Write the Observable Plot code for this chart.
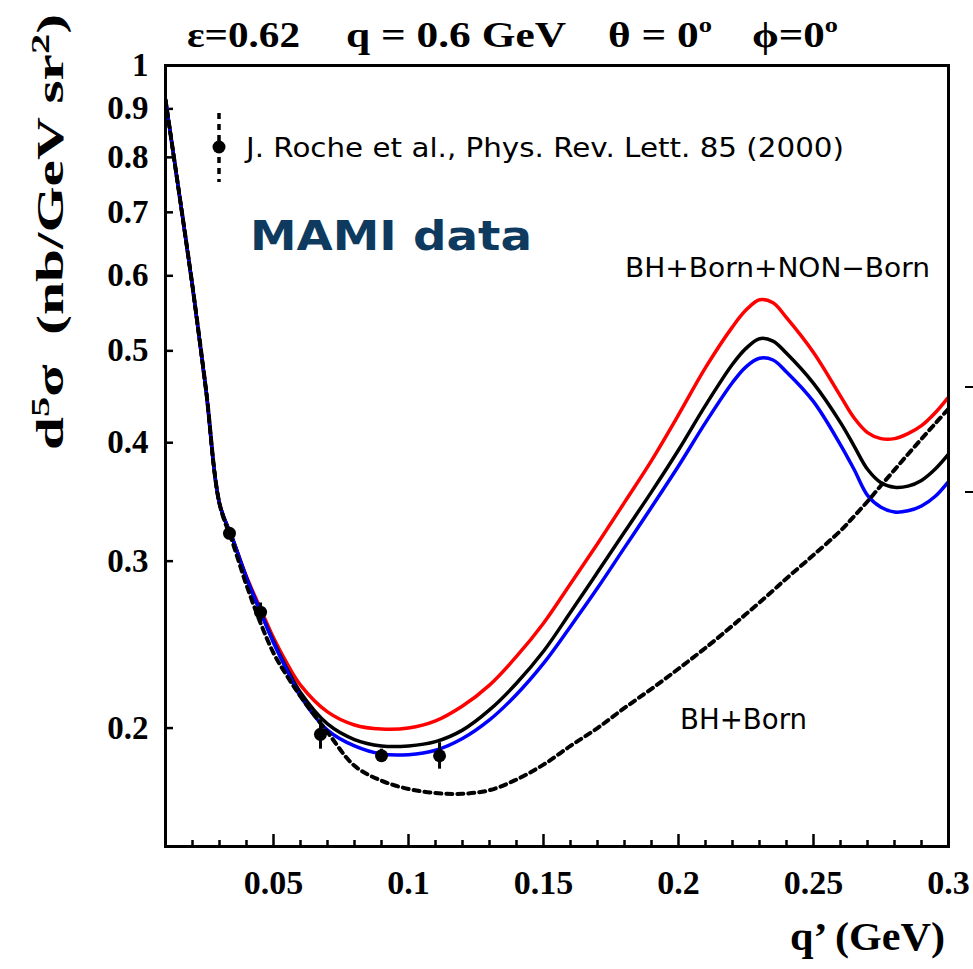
<!DOCTYPE html>
<html>
<head>
<meta charset="utf-8">
<script src="https://cdn.jsdelivr.net/npm/d3@7"></script>
<script src="https://cdn.jsdelivr.net/npm/@observablehq/plot@0.6"></script>
<style>
  html, body { margin: 0; padding: 0; background: #fff; }
  svg { display: block; }
</style>
</head>
<body>
<div id="chart"></div>
<script>
// ---------------- data ----------------
const qGrid = [0.010, 0.015, 0.020, 0.025, 0.030, 0.035, 0.040, 0.045, 0.050, 0.055, 0.060,
  0.070, 0.080, 0.090, 0.100, 0.110, 0.120, 0.130, 0.140, 0.150, 0.160, 0.170, 0.180, 0.190,
  0.200, 0.210, 0.220, 0.225, 0.230, 0.235, 0.240, 0.250, 0.260, 0.265, 0.270, 0.275, 0.280,
  0.285, 0.290, 0.295, 0.300];

// BH+Born+NON-Born (upper, red)
const nonBornHigh = [0.92, 0.735, 0.585, 0.455, 0.345, 0.316, 0.289, 0.268, 0.249, 0.234, 0.222,
  0.208, 0.2015, 0.1995, 0.2, 0.2035, 0.211, 0.222, 0.238, 0.258, 0.284, 0.313, 0.346, 0.383,
  0.428, 0.48, 0.53, 0.552, 0.566, 0.562, 0.542, 0.498, 0.448, 0.425, 0.41, 0.404, 0.404,
  0.409, 0.417, 0.43, 0.447];
// BH+Born+NON-Born (central, black)
const nonBornMid = [0.92, 0.735, 0.585, 0.455, 0.345, 0.316, 0.288, 0.266, 0.247, 0.231, 0.218,
  0.202, 0.1945, 0.1915, 0.1915, 0.1935, 0.199, 0.209, 0.223, 0.241, 0.265, 0.292, 0.322, 0.355,
  0.393, 0.438, 0.484, 0.503, 0.515, 0.512, 0.497, 0.462, 0.42, 0.397, 0.375, 0.363, 0.359,
  0.36, 0.365, 0.375, 0.389];
// BH+Born+NON-Born (lower, blue)
const nonBornLow = [0.92, 0.735, 0.585, 0.455, 0.345, 0.316, 0.288, 0.266, 0.246, 0.23, 0.216,
  0.199, 0.1915, 0.1878, 0.1875, 0.1895, 0.195, 0.204, 0.217, 0.234, 0.256, 0.281, 0.31, 0.342,
  0.378, 0.42, 0.463, 0.481, 0.491, 0.489, 0.475, 0.442, 0.398, 0.375, 0.352, 0.342, 0.338,
  0.339, 0.343, 0.351, 0.364];
// BH+Born (dotted)
const bhBorn = [0.92, 0.735, 0.585, 0.455, 0.345, 0.313, 0.283, 0.259, 0.24, 0.227, 0.216,
  0.198, 0.1825, 0.176, 0.1725, 0.1708, 0.1705, 0.172, 0.1765, 0.183, 0.1915, 0.2, 0.21, 0.22,
  0.231, 0.243, 0.2565, 0.2638, 0.2713, 0.2793, 0.2877, 0.3045, 0.323, 0.3345, 0.3468, 0.3605,
  0.3745, 0.389, 0.4037, 0.4188, 0.4344];

// J. Roche et al. data
const dataQ   = [0.0337, 0.0452, 0.0674, 0.0900, 0.1115];
const dataXs  = [0.321, 0.265, 0.197, 0.187, 0.187];
const dataErr = [0.004, 0.006, 0.007, 0.003, 0.006];

// ticks
const xMajorTicks = [0.05, 0.1, 0.15, 0.2, 0.25, 0.3];
const xMajorLabels = ["0.05", "0.1", "0.15", "0.2", "0.25", "0.3"];
const xMinorTicks = [0.02, 0.03, 0.04, 0.06, 0.07, 0.08, 0.09, 0.11, 0.12, 0.13, 0.14, 0.16,
  0.17, 0.18, 0.19, 0.21, 0.22, 0.23, 0.24, 0.26, 0.27, 0.28, 0.29];
const yTicks = [0.2, 0.3, 0.4, 0.5, 0.6, 0.7, 0.8, 0.9, 1];
const yLabels = ["0.2", "0.3", "0.4", "0.5", "0.6", "0.7", "0.8", "0.9", "1"];

// ---------------- build ----------------
const mk = arr => qGrid.map((q, i) => ({q, v: arr[i]}));
const points = dataQ.map((q, i) => ({q, v: dataXs[i], e: dataErr[i]}));

const W = 973, H = 969, mL = 165, mT = 65, mR = 25, mB = 123;
const fw = W - mL - mR, fh = H - mT - mB;
const serif = "'Liberation Serif', 'Times New Roman', serif";
const sans = "'DejaVu Sans', sans-serif";

const lineOpts = (color, extra = {}) => ({x: "q", y: "v", stroke: color, strokeWidth: 3.5,
  curve: "catmull-rom", clip: true, ...extra});

const chart = Plot.plot({
  width: W, height: H,
  marginLeft: mL, marginTop: mT, marginRight: mR, marginBottom: mB,
  x: {domain: [0.01, 0.3]},
  y: {type: "log", domain: [0.15, 1]},
  style: {background: "white", color: "black"},
  marks: [
    Plot.axisX(xMajorTicks, {tickSize: 0, tickPadding: 23, label: null,
      tickFormat: d => xMajorLabels[xMajorTicks.indexOf(d)],
      fontSize: 34, fontWeight: "bold", fontFamily: serif}),
    Plot.axisY(yTicks, {tickSize: 0, tickPadding: 17, label: null,
      tickFormat: d => yLabels[yTicks.indexOf(d)],
      fontSize: 33, fontWeight: "bold", fontFamily: serif}),
    Plot.ruleX(xMajorTicks, {x: d => d, insetTop: fh - 12, stroke: "black", strokeWidth: 2.5}),
    Plot.ruleX(xMinorTicks, {x: d => d, insetTop: fh - 6, stroke: "black", strokeWidth: 2.5}),
    Plot.ruleY(yTicks, {y: d => d, insetRight: fw - 8, stroke: "black", strokeWidth: 2.5}),
    Plot.line(mk(nonBornHigh), lineOpts("#ff0000")),
    Plot.line(mk(nonBornMid), lineOpts("#000000")),
    Plot.line(mk(nonBornLow), lineOpts("#0000ff")),
    Plot.line(mk(bhBorn), lineOpts("#000000", {strokeWidth: 4, strokeDasharray: "6,5"})),
    Plot.ruleX(points, {x: "q", y1: d => d.v - d.e, y2: d => d.v + d.e, stroke: "black", strokeWidth: 3}),
    Plot.dot(points, {x: "q", y: "v", r: 6.5, fill: "black", stroke: "none"}),
    Plot.frame({stroke: "black", strokeWidth: 3})
  ]
});

document.getElementById("chart").appendChild(chart);

// ---------------- annotations ----------------
const svg = d3.select(chart);
const g = svg.append("g").attr("text-anchor", "start");

function addText(x, y, parts, opts) {
  const t = g.append("text").attr("x", x).attr("y", y)
    .attr("font-family", opts.family).attr("font-size", opts.size)
    .attr("font-weight", opts.weight || "normal").attr("fill", opts.fill || "black")
    .attr("text-anchor", opts.anchor || "start");
  if (opts.transform) t.attr("transform", opts.transform);
  if (opts.length) t.attr("textLength", opts.length).attr("lengthAdjust", "spacingAndGlyphs");
  parts.forEach(p => {
    if (typeof p === "string") t.append("tspan").text(p);
    else t.append("tspan").attr("dy", p.dy).attr("font-size", p.size).text(p.text);
  });
  return t;
}

// title
const ts = {family: serif, size: 36, weight: "bold"};
addText(187, 47, ["ε=0.62"], {...ts, length: 113});
addText(346, 47, ["q = 0.6 GeV"], {...ts, length: 220});
addText(608, 47, ["θ = 0", {text: "o", dy: -15, size: 22}], {...ts, length: 104});
addText(752, 47, ["ϕ=0", {text: "o", dy: -15, size: 22}], {...ts, length: 86});

// y label (rotated)
addText(0, 0, ["d", {text: "5", dy: -14, size: 26}, {text: "σ  (nb/GeV sr", dy: 14, size: 38},
  {text: "2", dy: -14, size: 26}, {text: ")", dy: 14, size: 38}],
  {family: serif, size: 38, weight: "bold", transform: "translate(63,450) rotate(-90)", length: 436});

// x label
addText(945, 950, ["q’ (GeV)"], {family: serif, size: 40, weight: "bold", anchor: "end", length: 155});

// legend
g.append("line").attr("x1", 219).attr("x2", 219).attr("y1", 113).attr("y2", 182)
  .attr("stroke", "black").attr("stroke-width", 3.5).attr("stroke-dasharray", "6,5");
g.append("circle").attr("cx", 219).attr("cy", 147).attr("r", 6.5).attr("fill", "black");
addText(246, 157, ["J. Roche et al., Phys. Rev. Lett. 85 (2000)"], {family: sans, size: 26, length: 598});

// MAMI data
addText(250, 250, ["MAMI data"], {family: "'DejaVu Sans', sans-serif", size: 40, weight: "bold",
  fill: "#0d3a5e", length: 282});

// curve labels
addText(625, 277, ["BH+Born+NON−Born"], {family: sans, size: 27, length: 305});
addText(680, 729, ["BH+Born"], {family: sans, size: 28, length: 127});

// stray marks of the neighbouring panel at right edge
[387, 492].forEach(y => g.append("line").attr("x1", 965).attr("x2", 973)
  .attr("y1", y).attr("y2", y).attr("stroke", "black").attr("stroke-width", 2));
</script>
</body>
</html>
